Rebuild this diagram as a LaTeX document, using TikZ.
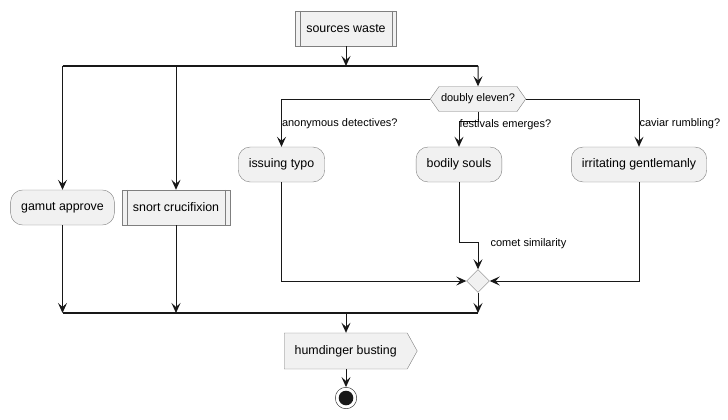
\documentclass[tikz,border=0pt]{standalone}
\usepackage{fontspec}
\setmainfont{Liberation Sans}
\usetikzlibrary{arrows.meta,shapes.geometric,shapes.symbols}
\newcommand{\actfont}{\fontsize{12.4}{14}\selectfont}
\newcommand{\guardfont}{\fontsize{11}{13}\selectfont}
\definecolor{boxfill}{HTML}{F1F1F1}
\definecolor{boxline}{HTML}{7F7F7F}
\definecolor{flowline}{HTML}{181818}
\tikzset{
  action/.style={draw=boxline,fill=boxfill,rounded corners=12pt,minimum height=35pt,inner xsep=10.5pt,font=\actfont},
  subproc/.style={draw=boxline,fill=boxfill,minimum height=35pt,inner xsep=11pt,font=\actfont},
  choice/.style={draw=boxline,fill=boxfill,signal,signal to=west and east,signal pointer angle=110,minimum height=25pt,inner xsep=2pt,font=\guardfont},
  sendbox/.style={draw=boxline,fill=boxfill,signal,signal to=east,signal pointer angle=122,minimum height=36pt,inner xsep=10.5pt,font=\actfont},
  merge/.style={draw=boxline,fill=boxfill,diamond,minimum size=23pt,inner sep=0pt},
  guard/.style={anchor=west,inner sep=0pt,font=\guardfont},
  arr/.style={draw=flowline,line width=1pt,-{Stealth[length=10pt,width=9pt,inset=4pt]}},
  forkbar/.style={draw=flowline,line width=1.8pt}
}

\begin{document}
\begin{tikzpicture}[x=1pt,y=-1pt]
  \useasboundingbox (0,0) rectangle (728,420);

  \node[subproc] (1) at (346,28.5) {sources waste};
  \coordinate (a) at (62.5,66);
  \coordinate (b) at (478,66);
  \node[action] (2) at (62.5,207.5) {gamut approve};
  \node[subproc] (3) at (176,207.5) {snort crucifixion};
  \node[choice] (4) at (478,99) {doubly eleven?};
  \node[action] (5) at (281.5,164.5) {issuing typo};
  \node[action] (6) at (459,164.5) {bodily souls};
  \node[action] (7) at (639,164.5) {irritating gentlemanly};
  \node[merge] (8) at (478,281) {};
  \coordinate (e) at (478,242);
  \coordinate (c) at (62.5,313);
  \coordinate (d) at (478,313);
  \node[sendbox,anchor=west] (9) at (284,351) {humdinger busting};
  \node[circle,draw=flowline,minimum size=21.5pt,inner sep=0pt] (10) at (346,398) {};
  \fill[flowline] (10) circle (7.3pt);

  % double side lines of the sub-process boxes
  \foreach \n in {1,3} {
    \draw[boxline] ([xshift=5pt]\n.north west) -- ([xshift=5pt]\n.south west);
    \draw[boxline] ([xshift=-5pt]\n.north east) -- ([xshift=-5pt]\n.south east);
  }

  \draw[forkbar] (a) -- (b);
  \draw[arr] (1) -- (1 |- a);
  \draw[arr] (2 |- a) -- (2);
  \draw[arr] (3 |- a) -- (3);
  \draw[arr] (b) -- (4);

  \draw[arr] (4.west) -| node[guard,pos=0.76] {anonymous detectives?} (5);
  \draw[arr] (4.south) -- ++(0,10) -| node[guard,pos=0.55] {festivals emerges?} (6);
  \draw[arr] (4.east) -| node[guard,pos=0.76] {caviar rumbling?} (7);

  \draw[arr] (5) |- (8);
  \draw[arr] (6) |- (e) node[guard,right=12pt,yshift=-2pt] {comet similarity} -- (8);
  \draw[arr] (7) |- (8);

  \draw[arr] (2) -- (2 |- c);
  \draw[arr] (3) -- (3 |- c);
  \draw[arr] (8) -- (8 |- d);
  \draw[forkbar] (c) -- (d);

  \draw[arr] (10 |- d) -- (10 |- 9.north);
  \draw[arr] (9.south -| 10) -- (10);
\end{tikzpicture}
\end{document}
